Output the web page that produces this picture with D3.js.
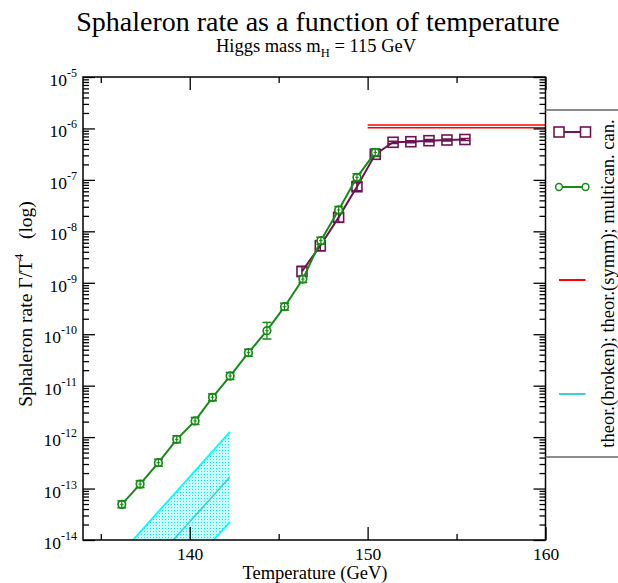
<!DOCTYPE html>
<html><head><meta charset="utf-8">
<script src="https://cdn.jsdelivr.net/npm/d3@7"></script>
<style>
body{margin:0;background:#fff;}
svg{display:block;font-family:"Liberation Serif","Times New Roman",serif;}
</style></head>
<body>
<svg id="c" width="618" height="583"></svg>
<script>
// ---- data ----
const canT   = [146.31,147.34,148.37,149.40,150.43,151.43,152.43,153.45,154.46,155.47];
const canV   = [1.66e-9,5.25e-9,1.87e-8,7.36e-8,3.14e-7,5.38e-7,5.52e-7,5.78e-7,5.96e-7,6.1e-7];
const canErr = [1.25,1.25,1.25,1.2,1.1,1.05,1.05,1.05,1.05,1.05];

const mcT   = [136.18,137.21,138.24,139.27,140.30,141.28,142.27,143.30,144.34,145.33,146.36,147.37,148.37,149.40,150.43];
const mcV   = [4.93e-14,1.22e-13,3.18e-13,9.06e-13,2.06e-12,5.93e-12,1.54e-11,4.37e-11,1.17e-10,3.43e-10,1.18e-9,6.58e-9,2.6e-8,1.12e-7,3.43e-7];
const mcErr = [1.17,1.17,1.17,1.17,1.17,1.17,1.17,1.17,1.45,1.17,1.17,1.17,1.17,1.17,1.17];

const symmT  = [150,160];
const symmHi = [1.17e-6,1.17e-6];
const symmLo = [1.03e-6,1.03e-6];

const brokT   = [136,139,142.26];
const brokHi  = [4.86e-15,6.98e-14,1.26e-12];
const brokMid = [6.47e-16,9.3e-15,1.68e-13];
const brokLo  = [8.63e-17,1.24e-15,2.24e-14];

const xMajor = [140,150,160];
const xMinor = [135,145,155];
const yDecades = [-14,-13,-12,-11,-10,-9,-8,-7,-6,-5];

const title = "Sphaleron rate as a function of temperature";
const legendText = "theor.(broken); theor.(symm); multican. can.";

// ---- layout ----
const L=83, R=545.5, T=77, B=540;
const svg = d3.select("#c");
const x = d3.scaleLinear().domain([134,160]).range([L,R]);
const y = d3.scaleLog().domain([1e-14,1e-5]).range([B,T]);
const cPurple="#6e1452", cGreen="#168c16", cRed="#ff0000", cCyan="#00ffff", cTurq="#3fd0c8";
const font='"Liberation Serif","Times New Roman",serif';

const defs = svg.append("defs");
defs.append("clipPath").attr("id","clip").append("rect").attr("x",L).attr("y",T).attr("width",R-L).attr("height",B-T);
const pat = defs.append("pattern").attr("id","dots").attr("patternUnits","userSpaceOnUse").attr("width",3).attr("height",3);
pat.append("rect").attr("x",0).attr("y",0).attr("width",1).attr("height",1).attr("fill","#00e4ff").attr("shape-rendering","crispEdges");

// titles
svg.append("text").attr("x",318).attr("y",31).attr("text-anchor","middle").attr("font-size",28).text(title);
const st = svg.append("text").attr("x",316).attr("y",52).attr("text-anchor","middle").attr("font-size",18.5);
st.append("tspan").text("Higgs mass m");
st.append("tspan").attr("dy",5).attr("font-size",12.5).text("H");
st.append("tspan").attr("dy",-5).text(" = 115 GeV");

// plot contents (clipped)
const g = svg.append("g").attr("clip-path","url(#clip)");

// broken phase band
const brok = brokT.map((t,i)=>({t,hi:brokHi[i],mid:brokMid[i],lo:brokLo[i]}));
const bandArea = d3.area().x(d=>x(d.t)).y0(d=>y(d.lo)).y1(d=>y(d.hi));
g.append("path").datum(brok).attr("fill",cCyan).attr("fill-opacity",0.22).attr("d",bandArea);
g.append("path").datum(brok).attr("fill","url(#dots)").attr("d",bandArea);
const ln = key => d3.line().x(d=>x(d.t)).y(d=>y(d[key]));
g.append("path").datum(brok).attr("fill","none").attr("stroke",cCyan).attr("stroke-width",1.8).attr("d",ln("hi"));
g.append("path").datum(brok).attr("fill","none").attr("stroke",cTurq).attr("stroke-width",1.6).attr("d",ln("mid"));
g.append("path").datum(brok).attr("fill","none").attr("stroke",cCyan).attr("stroke-width",1.8).attr("d",ln("lo"));

// symmetric phase
const symm = symmT.map((t,i)=>({t,hi:symmHi[i],lo:symmLo[i]}));
g.append("path").datum(symm).attr("fill","none").attr("stroke",cRed).attr("stroke-width",1.6).attr("d",ln("hi"));
g.append("path").datum(symm).attr("fill","none").attr("stroke",cRed).attr("stroke-width",1.6).attr("d",ln("lo"));

// canonical (squares)
const can = canT.map((t,i)=>({t,v:canV[i],e:canErr[i]}));
g.append("path").datum(can).attr("fill","none").attr("stroke",cPurple).attr("stroke-width",2)
 .attr("d",d3.line().x(d=>x(d.t)).y(d=>y(d.v)));
can.forEach(d=>{
  const cx=x(d.t), cy=y(d.v), y1=y(d.v*d.e), y2=y(d.v/d.e);
  g.append("line").attr("x1",cx).attr("x2",cx).attr("y1",y1).attr("y2",y2).attr("stroke",cPurple).attr("stroke-width",1.5);
  [y1,y2].forEach(yy=>g.append("line").attr("x1",cx-5).attr("x2",cx+5).attr("y1",yy).attr("y2",yy).attr("stroke",cPurple).attr("stroke-width",1.5));
  g.append("rect").attr("x",cx-5).attr("y",cy-5).attr("width",10).attr("height",10).attr("fill","none").attr("stroke",cPurple).attr("stroke-width",1.6);
});

// multicanonical (circles)
const mc = mcT.map((t,i)=>({t,v:mcV[i],e:mcErr[i]}));
g.append("path").datum(mc).attr("fill","none").attr("stroke",cGreen).attr("stroke-width",2)
 .attr("d",d3.line().x(d=>x(d.t)).y(d=>y(d.v)));
mc.forEach(d=>{
  const cx=x(d.t), cy=y(d.v), y1=y(d.v*d.e), y2=y(d.v/d.e);
  g.append("circle").attr("cx",cx).attr("cy",cy).attr("r",3.8).attr("fill","#fff").attr("stroke",cGreen).attr("stroke-width",1.7);
  g.append("line").attr("x1",cx).attr("x2",cx).attr("y1",y1).attr("y2",y2).attr("stroke",cGreen).attr("stroke-width",1.3);
  g.append("line").attr("x1",cx-1.8).attr("x2",cx+1.8).attr("y1",cy).attr("y2",cy).attr("stroke",cGreen).attr("stroke-width",1);
  [y1,y2].forEach(yy=>g.append("line").attr("x1",cx-4.5).attr("x2",cx+4.5).attr("y1",yy).attr("y2",yy).attr("stroke",cGreen).attr("stroke-width",1.5));
});

// axes
const yMajorVals = yDecades.map(k=>Math.pow(10,k));
const yMinorVals = [];
yDecades.slice(0,-1).forEach(k=>{for(let m=2;m<=9;m++) yMinorVals.push(m*Math.pow(10,k));});

function styleAxis(sel){ sel.select(".domain").remove(); sel.selectAll(".tick line").attr("stroke","#000").attr("stroke-width",1.3); }
svg.append("g").attr("transform",`translate(0,${B})`)
 .call(d3.axisBottom(x).tickValues(xMajor).tickSizeInner(-13).tickSizeOuter(0).tickPadding(8).tickFormat(d3.format("d")))
 .call(styleAxis).call(s=>s.selectAll("text").attr("font-size",17.5).attr("font-family",font).attr("fill","#000"));
svg.append("g").attr("transform",`translate(0,${B})`)
 .call(d3.axisBottom(x).tickValues(xMinor).tickSizeInner(-6).tickSizeOuter(0).tickFormat("")).call(styleAxis);
svg.append("g").attr("transform",`translate(0,${T})`)
 .call(d3.axisTop(x).tickValues(xMajor).tickSizeInner(-13).tickSizeOuter(0).tickFormat("")).call(styleAxis);
svg.append("g").attr("transform",`translate(0,${T})`)
 .call(d3.axisTop(x).tickValues(xMinor).tickSizeInner(-6).tickSizeOuter(0).tickFormat("")).call(styleAxis);
[[L,d3.axisLeft],[R,d3.axisRight]].forEach(([px,ax])=>{
  svg.append("g").attr("transform",`translate(${px},0)`)
   .call(ax(y).tickValues(yMajorVals).tickSizeInner(-12).tickSizeOuter(0).tickFormat("")).call(styleAxis);
  svg.append("g").attr("transform",`translate(${px},0)`)
   .call(ax(y).tickValues(yMinorVals).tickSizeInner(-6).tickSizeOuter(0).tickFormat("")).call(styleAxis);
});
svg.append("rect").attr("x",L).attr("y",T).attr("width",R-L).attr("height",B-T).attr("fill","none").attr("stroke","#000").attr("stroke-width",1.5);

// y tick labels
yDecades.forEach(k=>{
  const t = svg.append("text").attr("x",77).attr("y",y(Math.pow(10,k))+9).attr("text-anchor","end").attr("font-size",17.5);
  t.append("tspan").text("10");
  t.append("tspan").attr("dy",-9).attr("font-size",12).text("-"+(-k));
});

// axis labels
svg.append("text").attr("x",315).attr("y",579).attr("text-anchor","middle").attr("font-size",18.5).text("Temperature (GeV)");
const yl = svg.append("text").attr("transform","translate(32,304) rotate(-90)").attr("text-anchor","middle").attr("font-size",19.5).attr("xml:space","preserve");
yl.append("tspan").text("Sphaleron rate \u0393/T");
yl.append("tspan").attr("dy",-9).attr("font-size",13).text("4");
yl.append("tspan").attr("dy",9).text("\u00a0\u00a0 (log)");

// legend
svg.append("line").attr("x1",R).attr("x2",618).attr("y1",110).attr("y2",110).attr("stroke","#666").attr("stroke-width",1.5);
svg.append("line").attr("x1",R).attr("x2",618).attr("y1",457).attr("y2",457).attr("stroke","#666").attr("stroke-width",1.5);
const lx1=559, lx2=585.5;
svg.append("line").attr("x1",lx1).attr("x2",lx2).attr("y1",132).attr("y2",132).attr("stroke",cPurple).attr("stroke-width",2);
[lx1,lx2].forEach(px=>svg.append("rect").attr("x",px-5).attr("y",127).attr("width",10).attr("height",10).attr("fill","#fff").attr("stroke",cPurple).attr("stroke-width",1.6));
svg.append("line").attr("x1",lx1).attr("x2",lx2).attr("y1",187).attr("y2",187).attr("stroke",cGreen).attr("stroke-width",2);
[lx1,lx2].forEach(px=>svg.append("circle").attr("cx",px).attr("cy",187).attr("r",3.4).attr("fill","#fff").attr("stroke",cGreen).attr("stroke-width",1.5));
svg.append("line").attr("x1",lx1).attr("x2",lx2).attr("y1",280).attr("y2",280).attr("stroke",cRed).attr("stroke-width",2);
svg.append("line").attr("x1",lx1).attr("x2",lx2).attr("y1",394).attr("y2",394).attr("stroke",cTurq).attr("stroke-width",2);
svg.append("text").attr("transform","translate(614,283.5) rotate(-90)").attr("text-anchor","middle").attr("font-size",18.5).text(legendText);
</script>
</body></html>
